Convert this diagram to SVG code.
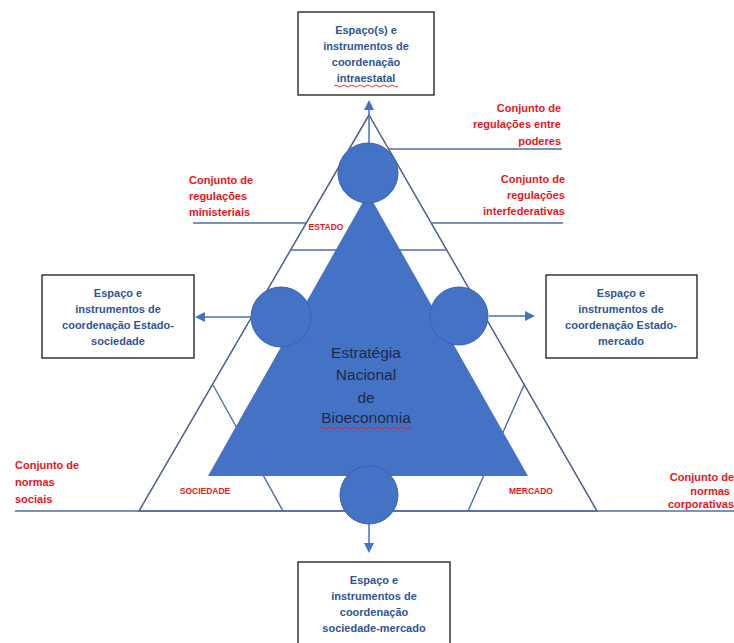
<svg xmlns="http://www.w3.org/2000/svg" width="734" height="643" viewBox="0 0 734 643">
<defs>
<style>
.ln{stroke:#4f6fa6;stroke-width:1.4;fill:none}
.ol{stroke:#4a5f8a;stroke-width:1.5;fill:none}
.blue{fill:#4472c4}
.circ{fill:#4472c4;stroke:#3a62a8;stroke-width:1}
.box{fill:#fff;stroke:#1a1a1a;stroke-width:1.3}
.bt{font-family:"Liberation Sans",Arial,sans-serif;font-weight:bold;font-size:11px;fill:#2f5597;text-anchor:middle}
.rt{font-family:"Liberation Sans",Arial,sans-serif;font-weight:bold;font-size:11px;fill:#e8161c}
.zt{font-family:"Liberation Sans",Arial,sans-serif;font-weight:bold;font-size:8.5px;fill:#e8161c;text-anchor:middle}
.mt{font-family:"Liberation Sans",Arial,sans-serif;font-size:15.5px;fill:#1c2b4a;text-anchor:middle}
.aw{stroke:#4472c4;stroke-width:1.5;fill:none}
.ah{fill:#4472c4}
.sq{stroke:#e0202a;stroke-width:0.9;fill:none}
</style>
</defs>
<g id="frame">
<polygon class="ol" points="369,115 139,511 597,511"/>
<line class="ln" x1="15" y1="511" x2="734" y2="511"/>
<line class="ln" x1="291" y1="250" x2="447" y2="250"/>
<line class="ln" x1="213" y1="385" x2="283" y2="511"/>
<line class="ln" x1="524" y1="385" x2="468" y2="511"/>
<line class="ln" x1="389" y1="149" x2="562" y2="149"/>
<line class="ln" x1="193" y1="223" x2="306" y2="223"/>
<line class="ln" x1="432" y1="223" x2="563" y2="223"/>
</g>
<g id="core">
<polygon class="blue" points="368,193 208,476 528,476"/>
<text class="mt" x="366" y="358">Estratégia</text>
<text class="mt" x="366" y="380">Nacional</text>
<text class="mt" x="366" y="403">de</text>
<text class="mt" x="366" y="423">Bioeconomia</text>
<path class="sq" d="M320,428 q2,-2 4,0 t4,0 t4,0 t4,0 t4,0 t4,0 t4,0 t4,0 t4,0 t4,0 t4,0 t4,0 t4,0 t4,0 t4,0 t4,0 t4,0 t4,0 t4,0 t4,0 t4,0 t4,0 t4,0"/>
</g>
<g id="connectors">
<line class="aw" x1="369" y1="143" x2="369" y2="108"/>
<polygon class="ah" points="369,100 364,110 374,110"/>
<line class="aw" x1="251" y1="317" x2="203" y2="317"/>
<polygon class="ah" points="195,317 205,312 205,322"/>
<line class="aw" x1="489" y1="316" x2="527" y2="316"/>
<polygon class="ah" points="535,316 525,311 525,321"/>
<line class="aw" x1="369" y1="524" x2="369" y2="545"/>
<polygon class="ah" points="369,553 364,543 374,543"/>
</g>
<g id="hub-estado"><circle class="circ" cx="368" cy="173" r="30"/></g>
<g id="hub-estado-sociedade"><circle class="circ" cx="281" cy="317" r="30"/></g>
<g id="hub-estado-mercado"><circle class="circ" cx="459" cy="316" r="29"/></g>
<g id="hub-sociedade-mercado"><circle class="circ" cx="369" cy="495" r="29"/></g>
<g id="box-intraestatal">
<rect class="box" x="298" y="12" width="136" height="83"/>
<text class="bt" x="366" y="34">Espaço(s) e</text>
<text class="bt" x="366" y="50">instrumentos de</text>
<text class="bt" x="366" y="66">coordenação</text>
<text class="bt" x="366" y="82">intraestatal</text>
<path class="sq" d="M334,86 q2,-2 4,0 t4,0 t4,0 t4,0 t4,0 t4,0 t4,0 t4,0 t4,0 t4,0 t4,0 t4,0 t4,0 t4,0 t4,0 t4,0"/>
</g>
<g id="box-estado-sociedade">
<rect class="box" x="42" y="275" width="152" height="83"/>
<text class="bt" x="118" y="297">Espaço e</text>
<text class="bt" x="118" y="313">instrumentos de</text>
<text class="bt" x="118" y="329">coordenação Estado-</text>
<text class="bt" x="118" y="345">sociedade</text>
</g>
<g id="box-estado-mercado">
<rect class="box" x="546" y="275" width="151" height="83"/>
<text class="bt" x="621" y="297">Espaço e</text>
<text class="bt" x="621" y="313">instrumentos de</text>
<text class="bt" x="621" y="329">coordenação Estado-</text>
<text class="bt" x="621" y="345">mercado</text>
</g>
<g id="box-sociedade-mercado">
<rect class="box" x="298" y="562" width="152" height="95"/>
<text class="bt" x="374" y="584">Espaço e</text>
<text class="bt" x="374" y="600">instrumentos de</text>
<text class="bt" x="374" y="616">coordenação</text>
<text class="bt" x="374" y="632">sociedade-mercado</text>
</g>
<g id="labels">
<text class="rt" text-anchor="end"><tspan x="561" y="112">Conjunto de</tspan><tspan x="561" y="128">regulações entre</tspan><tspan x="561" y="145">poderes</tspan></text>
<text class="rt"><tspan x="189" y="184">Conjunto de</tspan><tspan x="189" y="200">regulações</tspan><tspan x="189" y="216">ministeriais</tspan></text>
<text class="rt" text-anchor="end"><tspan x="565" y="183">Conjunto de</tspan><tspan x="565" y="199">regulações</tspan><tspan x="565" y="215">interfederativas</tspan></text>
<text class="rt"><tspan x="15" y="469">Conjunto de</tspan><tspan x="15" y="486">normas</tspan><tspan x="15" y="503">sociais</tspan></text>
<text class="rt" text-anchor="end"><tspan x="734" y="481">Conjunto de</tspan><tspan x="730" y="495">normas</tspan><tspan x="734" y="508">corporativas</tspan></text>
<text class="zt" x="326" y="230">ESTADO</text>
<text class="zt" x="205" y="494">SOCIEDADE</text>
<text class="zt" x="531" y="494">MERCADO</text>
</g>
</svg>
